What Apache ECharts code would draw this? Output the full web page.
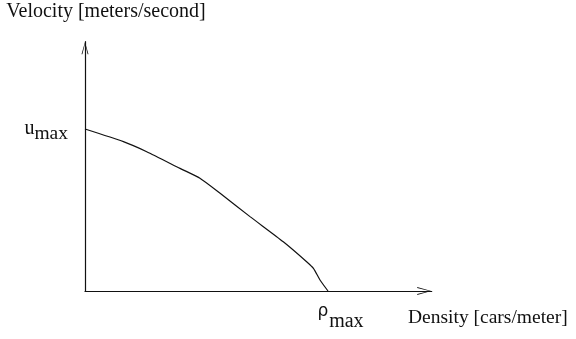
<!DOCTYPE html>
<html>
<head>
<meta charset="utf-8">
<style>
  html, body { margin: 0; padding: 0; background: #fff; }
  #chart { width: 576px; height: 339px; }
</style>
<script src="https://cdn.jsdelivr.net/npm/echarts@6/dist/echarts.min.js"></script>
</head>
<body>
<div id="chart"></div>
<script>
// Traffic flow: velocity as a function of density, both in units of their maxima
const density  = [0, 0.158, 0.254, 0.391, 0.473, 0.556, 0.679, 0.816, 0.912, 0.940, 0.967, 1.0];
const velocity = [1.0, 0.922, 0.860, 0.757, 0.696, 0.603, 0.459, 0.304, 0.181, 0.140, 0.068, 0];

const xTitle = 'Density [cars/meter]';
const yTitle = 'Velocity [meters/second]';
const xMaxLabel = 'ρ';   // rho_max
const yMaxLabel = 'u';   // u_max
const subscript = 'max';

const serif = '"Liberation Serif", "Times New Roman", serif';
const sans = '"DejaVu Sans", "Liberation Sans", sans-serif';
const ink = '#111';

// open chevron arrow head, tip at the top of the box
const chevron = 'path://M4,0 L8,14 L7,14 L4,2 L1,14 L0,14 Z';

const chart = echarts.init(document.getElementById('chart'));
chart.setOption({
  animation: false,
  backgroundColor: '#fff',
  grid: { left: 85, top: 41.7, width: 346.7, height: 249.3, outerBoundsMode: 'none', containLabel: false },
  xAxis: {
    type: 'value', min: 0, max: 1.4267, interval: 1,
    splitLine: { show: false }, axisTick: { show: false },
    axisLine: {
      onZero: false,
      lineStyle: { color: ink, width: 1.2 },
      symbol: ['none', chevron], symbolSize: [8, 15], symbolOffset: [0, -7.5]
    },
    axisLabel: {
      margin: 12, color: ink, showMaxLabel: false,
      padding: [0, 0, 0, 25],
      formatter: v => Math.abs(v - 1) < 1e-9 ? `{r|${xMaxLabel}}{s|${subscript}}` : '',
      rich: {
        r: { fontFamily: sans, fontSize: 17, lineHeight: 20, verticalAlign: 'top', color: ink, padding: [0, 1, 0, 0] },
        s: { fontFamily: serif, fontSize: 20, lineHeight: 20, padding: [17, 0, 0, 0], color: ink }
      }
    },
    name: xTitle, nameLocation: 'end', nameGap: 136, nameMoveOverlap: false,
    nameTextStyle: { fontFamily: serif, fontSize: 19.5, color: ink, align: 'right', verticalAlign: 'top', padding: [17, 0, 0, 0] }
  },
  yAxis: {
    type: 'value', min: 0, max: 1.539, interval: 1,
    splitLine: { show: false }, axisTick: { show: false },
    axisLine: {
      lineStyle: { color: ink, width: 1.2 },
      symbol: ['none', chevron], symbolSize: [7, 13], symbolOffset: [0, -6.5]
    },
    axisLabel: {
      margin: 17, color: ink, showMaxLabel: false,
      formatter: v => Math.abs(v - 1) < 1e-9 ? `{u|${yMaxLabel}}{s|${subscript}}` : '',
      rich: {
        u: { fontFamily: serif, fontSize: 20, lineHeight: 20, verticalAlign: 'top', color: ink },
        s: { fontFamily: serif, fontSize: 19.5, lineHeight: 20, padding: [10, 0, 0, 0], color: ink }
      }
    },
    name: yTitle, nameLocation: 'end', nameGap: 20, nameMoveOverlap: false,
    nameTextStyle: { fontFamily: serif, fontSize: 20, color: ink, align: 'center', verticalAlign: 'bottom', padding: [0, 0, 0, 42] }
  },
  series: [{
    type: 'line',
    data: density.map((d, i) => [d, velocity[i]]),
    showSymbol: false,
    smooth: 0.2,
    lineStyle: { color: ink, width: 1.2 }
  }]
});
</script>
</body>
</html>
